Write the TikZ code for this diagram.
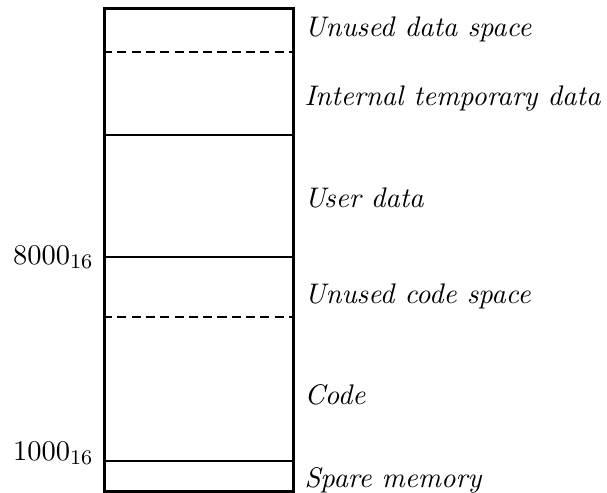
\documentclass[tikz,border=0pt]{standalone}
\usepackage{amsmath}
\usepackage{tikz}
\usetikzlibrary{calc}

\tikzset{
	region/.style={anchor=base west,inner sep=0pt,font=\fontsize{10.9}{13}\selectfont\itshape},
	addr/.style={anchor=base east,inner sep=0pt,font=\fontsize{10.9}{13}\selectfont},
	bound/.style={line width=0.6pt},
	gap/.style={line width=1pt,dash pattern=on 3.5pt off 2pt}
}

\begin{document}
\begin{tikzpicture}[x=0.3846pt,y=-0.3846pt]
	\useasboundingbox (0,0) rectangle (607,492);
	% memory box
	\node [draw,line width=1pt,minimum width=189*0.3846pt,minimum height=483*0.3846pt,inner sep=0pt,anchor=north west] (mem) at (103,7) {};
	% boundaries
	\coordinate (l1) at (103,52);  \coordinate (r1) at (292,52);
	\coordinate (l2) at (103,135); \coordinate (r2) at (292,135);
	\coordinate (l3) at (103,257); \coordinate (r3) at (292,257);
	\coordinate (l4) at (103,317); \coordinate (r4) at (292,317);
	\coordinate (l5) at (103,461); \coordinate (r5) at (292,461);
	\draw [gap] (l1) -- (r1);
	\draw [bound] (l2) -- (r2);
	\draw [bound] (l3) -- (r3);
	\draw [gap] (l4) -- (r4);
	\draw [bound] (l5) -- (r5);
	% labels
	\node [region] (uds) at (304,36) {Unused data space};
	\node [region] (itd) at (304,105) {Internal temporary data};
	\node [region] (ud) at (304,207) {User data};
	\node [region] (ucs) at (304,303) {Unused code space};
	\node [region] (code) at (304,404) {Code};
	\node [region] (spare) at (304,487) {Spare memory};
	\node [addr] (a8000) at (94,264) {$8000_{16}$};
	\node [addr] (a1000) at (94,460) {$1000_{16}$};
\end{tikzpicture}
\end{document}
